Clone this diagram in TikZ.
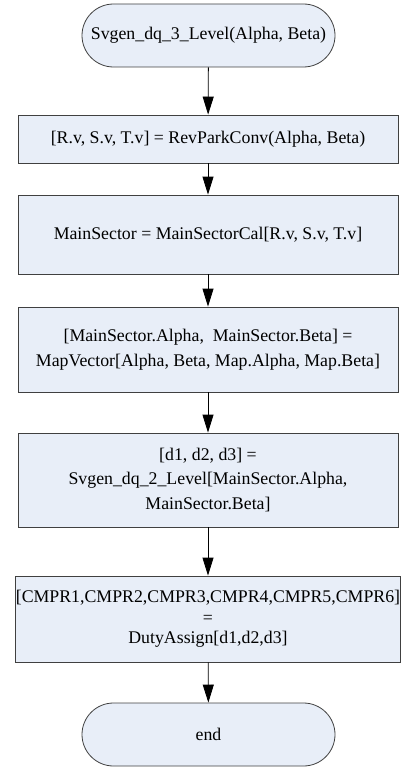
\documentclass[tikz,border=0pt]{standalone}
\usepackage{fontspec}
\setmainfont{Liberation Serif}
\usetikzlibrary{shapes, arrows.meta, positioning}
\definecolor{boxfill}{RGB}{232,238,248}
\definecolor{boxline}{RGB}{64,64,64}

\tikzset{
  procbox/.style={draw=boxline, fill=boxfill, line width=0.8pt, minimum width=380pt,
    align=center, font=\fontsize{17.8}{24.5}\selectfont, inner sep=0pt},
  termbox/.style={draw=boxline, fill=boxfill, line width=0.8pt, rounded rectangle,
    minimum width=253pt, minimum height=63pt, font=\fontsize{17.8}{24.5}\selectfont, inner sep=0pt},
  flow/.style={-{Triangle[width=11pt,length=18pt]}, line width=0.8pt, black}
}

\begin{document}
\begin{tikzpicture}[x=1pt, y=-1pt]
            \useasboundingbox (0,0) rectangle (401,768);
            % --- start and end ---
            \node[termbox] (start) at (208.5, 35.5) {Svgen\_dq\_3\_Level(Alpha, Beta)};
            \node[termbox] (finish) at (208.5, 734.5) {end};

            % --- process steps ---
            \node[procbox, minimum height=48pt] (revpark) at (208, 139) {[R.v, S.v, T.v] = RevParkConv(Alpha, Beta)};
            \node[procbox, minimum height=79pt] (sector) at (208, 234.5) {MainSector = MainSectorCal[R.v, S.v, T.v]};
            \node[procbox, minimum height=85pt] (mapvec) at (208, 349.5) {[MainSector.Alpha,\ \ MainSector.Beta] =\\ MapVector[Alpha, Beta, Map.Alpha, Map.Beta]};
            \node[procbox, minimum height=94pt] (svgen) at (208, 480) {[d1, d2, d3] =\\ Svgen\_dq\_2\_Level[MainSector.Alpha,\\ MainSector.Beta]};
            \node[procbox, minimum height=86pt, font=\fontsize{17.8}{20.5}\selectfont] (duty) at (208, 619) {[CMPR1,CMPR2,CMPR3,CMPR4,CMPR5,CMPR6]\\ =\\ DutyAssign[d1,d2,d3]};

            % --- connectors ---
            \draw[flow] (start) -- (revpark);
            \draw[flow] (revpark) -- (sector);
            \draw[flow] (sector) -- (mapvec);
            \draw[flow] (mapvec) -- (svgen);
            \draw[flow] (svgen) -- (duty);
            \draw[flow] (duty) -- (finish);
        \end{tikzpicture}
\end{document}
